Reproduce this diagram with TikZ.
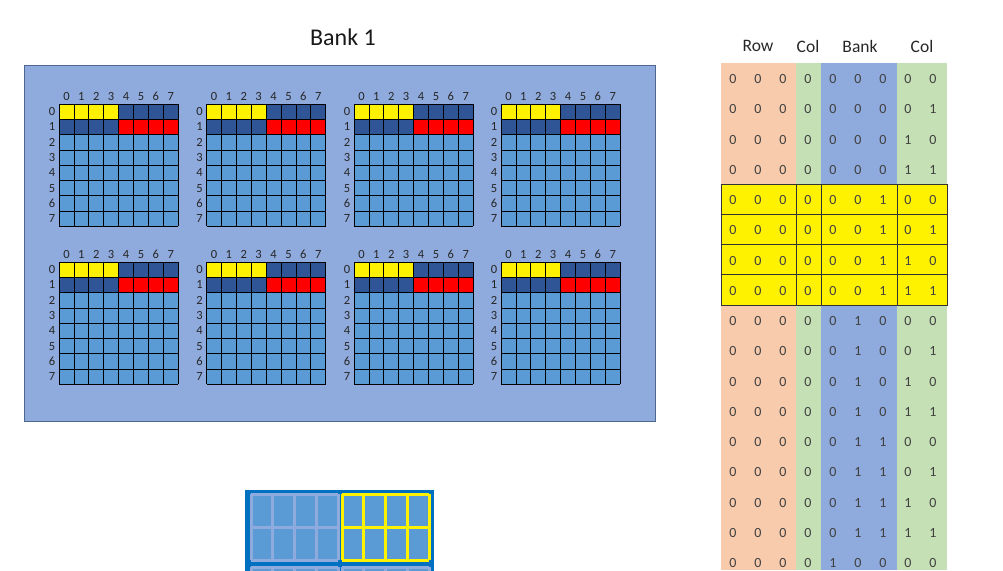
\documentclass[tikz,border=0pt]{standalone}
\usepackage{fontspec}
\setmainfont{Carlito}
\usetikzlibrary{positioning}
\definecolor{bankblue}{HTML}{8FAADC}
\definecolor{cellblue}{HTML}{5B9BD5}
\definecolor{darkcell}{HTML}{2F5597}
\definecolor{rowsalmon}{HTML}{F8CBAD}
\definecolor{colgreen}{HTML}{C5E0B4}
\definecolor{boxblue}{HTML}{0070C0}
\definecolor{textgray}{HTML}{404040}

\begin{document}
\begin{tikzpicture}[
    x=1pt, y=-1pt,
    every node/.style={inner sep=0pt, align=center},
    bankbox/.style={fill=bankblue, draw=darkcell!60!gray, line width=0.8pt},
    gridline/.style={draw=black, line width=0.7pt},
    gridlbl/.style={font=\fontsize{12.5}{14}\selectfont, text=black!85, text height=8pt, text depth=0pt},
    bit/.style={font=\fontsize{14}{16}\selectfont, text=textgray, text height=9pt, text depth=0pt},
    header/.style={font=\fontsize{17.5}{20}\selectfont, text=black!85},
    title/.style={font=\fontsize{24}{28}\selectfont, text=black!90},
    hiline/.style={draw=black!80, line width=0.8pt},
    blockline/.style={line width=3pt}
]
\useasboundingbox (0,0) rectangle (1003,570);
\clip (0,0) rectangle (1003,570);

% Bank 1 with its eight grids
\node[title] (banktitle) at (343,37) {Bank 1};
\draw[bankbox] (24,65) rectangle (655,421);

\foreach \gx/\gy [count=\g] in {59/104, 206.5/104, 354/104, 501/104,
                                 59/262, 206.5/262, 354/262, 501/262} {
  \fill[cellblue] (\gx,\gy) rectangle ++(119.2,122.4);
  \fill[yellow] (\gx,\gy) rectangle ++(59.6,15.3);
  \fill[darkcell] (\gx+59.6,\gy) rectangle ++(59.6,15.3);
  \fill[darkcell] (\gx,\gy+15.3) rectangle ++(59.6,15.3);
  \fill[red] (\gx+59.6,\gy+15.3) rectangle ++(59.6,15.3);
  \foreach \k in {0,...,8} {
    \draw[gridline] (\gx+\k*14.9,\gy) -- ++(0,122.4);
    \draw[gridline] (\gx,\gy+\k*15.3) -- ++(119.2,0);
  }
  \foreach \k in {0,...,7} {
    \node[gridlbl] (g\g c\k) at (\gx+\k*14.9+7.45,\gy-8) {\k};
    \node[gridlbl] (g\g r\k) at (\gx-7,\gy+\k*15.3+7.65) {\k};
  }
}

% Address table
\fill[rowsalmon] (721,63) rectangle (796,570);
\fill[colgreen] (796,63) rectangle (821,570);
\fill[bankblue] (821,63) rectangle (897,570);
\fill[colgreen] (897,63) rectangle (947,570);
\fill[yellow] (721,184) rectangle (947,305);
\foreach \yy in {214.25,244.5,274.75}
  \draw[hiline] (721,\yy) -- (947,\yy);
\foreach \xx in {796,821,897}
  \draw[hiline] (\xx,184) -- (\xx,305);
\draw[hiline] (721,184) rectangle (947,305);

\node[header] (hrow) at (758,46) {Row};
\node[header] (hcol) at (808,46) {Col};
\node[header] (hbank) at (860,46) {Bank};
\node[header] (hcolb) at (922,46) {Col};

\foreach \r in {0,...,16} {
  \pgfmathtruncatemacro{\bk}{int(\r/4)}
  \pgfmathtruncatemacro{\bb}{int(\bk/4)}
  \pgfmathtruncatemacro{\bm}{mod(int(\bk/2),2)}
  \pgfmathtruncatemacro{\bl}{mod(\bk,2)}
  \pgfmathtruncatemacro{\cm}{int(mod(\r,4)/2)}
  \pgfmathtruncatemacro{\cl}{mod(\r,2)}
  \foreach \v [count=\c] in {0,0,0,0,\bb,\bm,\bl,\cm,\cl}
    \node[bit] (t\r-\c) at (708+\c*25,79+\r*30.25) {\v};
}

% Small bank blocks
\fill[boxblue] (245,490) rectangle (434,640);
\foreach \bx/\by/\bc [count=\b] in {251/494/bankblue, 342/494/yellow,
                                    251/567/bankblue, 342/567/bankblue} {
  \fill[cellblue] (\bx,\by) rectangle ++(87,66);
  \foreach \k in {0,...,4}
    \draw[blockline, draw=\bc] (\bx+\k*21.75,\by) -- ++(0,66);
  \foreach \k in {0,1,2}
    \draw[blockline, draw=\bc] (\bx,\by+\k*33) -- ++(87,0);
}
\end{tikzpicture}
\end{document}
